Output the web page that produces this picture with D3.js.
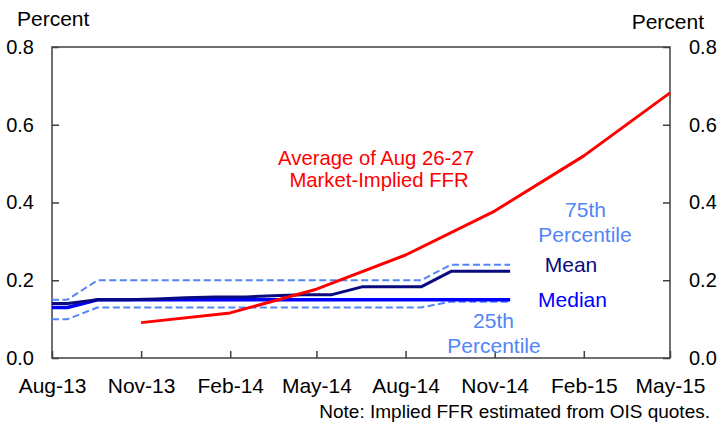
<!DOCTYPE html>
<html>
<head>
<meta charset="utf-8">
<script src="https://cdn.jsdelivr.net/npm/d3@7"></script>
<style>
  html, body { margin: 0; padding: 0; background: #fff; }
  svg { display: block; }
  text { font-family: "Liberation Sans", Arial, sans-serif; }
</style>
</head>
<body>
<svg id="chart" width="717" height="426"></svg>
<script>
// ---- Data ----
const surveyDates = ["2013-08-01","2013-08-17","2013-09-17","2013-10-17","2013-11-17","2013-12-17",
  "2014-01-17","2014-02-17","2014-03-17","2014-04-17","2014-05-17","2014-06-17","2014-07-17",
  "2014-08-17","2014-09-17","2014-10-17","2014-11-17"];
const pct25  = [0.10,0.10,0.13,0.13,0.13,0.13,0.13,0.13,0.13,0.13,0.13,0.13,0.13,0.13,0.145,0.145,0.145];
const pct75  = [0.15,0.15,0.20,0.20,0.20,0.20,0.20,0.20,0.20,0.20,0.20,0.20,0.20,0.20,0.24,0.24,0.24];
const median = [0.13,0.13,0.15,0.15,0.15,0.15,0.15,0.15,0.15,0.15,0.15,0.15,0.15,0.15,0.15,0.15,0.15];
const mean   = [0.14,0.14,0.15,0.15,0.152,0.155,0.157,0.157,0.16,0.163,0.163,0.183,0.183,0.183,0.223,0.223,0.223];
const marketDates = ["2013-11-01","2014-02-01","2014-05-01","2014-08-01","2014-11-01","2015-02-01","2015-05-01"];
const marketFFR   = [0.091,0.116,0.177,0.265,0.378,0.52,0.682];
const xTickDates  = ["2013-08-01","2013-11-01","2014-02-01","2014-05-01","2014-08-01","2014-11-01","2015-02-01","2015-05-01"];
const yTicks      = [0.0,0.2,0.4,0.6,0.8];

// ---- Layout ----
const svg = d3.select("#chart");
const L = 52, R = 670, T = 47, B = 358;
const parse = d3.utcParse("%Y-%m-%d");
const x = d3.scaleUtc().domain([parse("2013-08-01"), parse("2015-05-01")]).range([L, R]);
const y = d3.scaleLinear().domain([0, 0.8]).range([B, T]);
const fmtX = d3.utcFormat("%b-%y");
const font = "'Liberation Sans', Arial, sans-serif";

// frame
svg.append("rect").attr("x", L).attr("y", T).attr("width", R - L).attr("height", B - T)
  .attr("fill", "none").attr("stroke", "#404040").attr("stroke-width", 1.5);

// axes (inward ticks)
const xAxis = d3.axisBottom(x).tickValues(xTickDates.map(parse)).tickFormat(fmtX).tickSizeInner(-7).tickSizeOuter(0).tickPadding(20);
const gx = svg.append("g").attr("transform", `translate(0,${B})`).call(xAxis);
gx.select(".domain").remove();
gx.selectAll("line").attr("stroke", "#404040").attr("stroke-width", 1.5);
gx.selectAll("text").attr("font-size", 21).attr("font-family", font).attr("fill", "#000").attr("dy", "0.7em");

const yAxisL = d3.axisLeft(y).tickValues(yTicks).tickFormat(d3.format(".1f")).tickSizeInner(-7).tickSizeOuter(0).tickPadding(18);
const gyl = svg.append("g").attr("transform", `translate(${L},0)`).call(yAxisL);
gyl.select(".domain").remove();
gyl.selectAll("line").attr("stroke", "#404040").attr("stroke-width", 1.5);
gyl.selectAll("text").attr("font-size", 20).attr("font-family", font).attr("fill", "#000");

const yAxisR = d3.axisRight(y).tickValues(yTicks).tickFormat(d3.format(".1f")).tickSizeInner(-7).tickSizeOuter(0).tickPadding(19);
const gyr = svg.append("g").attr("transform", `translate(${R},0)`).call(yAxisR);
gyr.select(".domain").remove();
gyr.selectAll("line").attr("stroke", "#404040").attr("stroke-width", 1.5);
gyr.selectAll("text").attr("font-size", 20).attr("font-family", font).attr("fill", "#000");

// lines
const sDates = surveyDates.map(parse);
const line = d3.line().x(d => x(d[0])).y(d => y(d[1]));
function drawSeries(dates, vals, color, width, dash) {
  const p = svg.append("path").datum(dates.map((d, i) => [d, vals[i]]))
    .attr("d", line).attr("fill", "none").attr("stroke", color).attr("stroke-width", width)
    .attr("stroke-linejoin", "round");
  if (dash) p.attr("stroke-dasharray", dash);
}
drawSeries(sDates, pct25, "#5285F5", 2, "7,3.5");
drawSeries(sDates, pct75, "#5285F5", 2, "7,3.5");
drawSeries(sDates, median, "#0000FF", 3.5);
drawSeries(sDates, mean, "#0A0A80", 3);
drawSeries(marketDates.map(parse), marketFFR, "#FF0000", 3);

// text labels
function label(txt, cx, by, color, size, anchor) {
  svg.append("text").attr("x", cx).attr("y", by).attr("text-anchor", anchor || "middle")
    .attr("font-size", size).attr("font-family", font).attr("fill", color).text(txt);
}
label("Percent", 17, 26, "#000", 21, "start");
label("Percent", 704, 29, "#000", 21, "end");
label("Average of Aug 26-27", 376, 165, "#FF0000", 20.3);
label("Market-Implied FFR", 379, 186.5, "#FF0000", 20.3);
label("75th", 585.5, 216.7, "#5285F5", 21);
label("Percentile", 585, 241.7, "#5285F5", 21);
label("Mean", 571, 272.3, "#0A0A80", 21);
label("Median", 572.5, 306.7, "#0000FF", 21);
label("25th", 493.5, 328, "#5285F5", 21);
label("Percentile", 494, 353, "#5285F5", 21);
label("Note: Implied FFR estimated from OIS quotes.", 710, 418, "#000", 19, "end");
</script>
</body>
</html>
